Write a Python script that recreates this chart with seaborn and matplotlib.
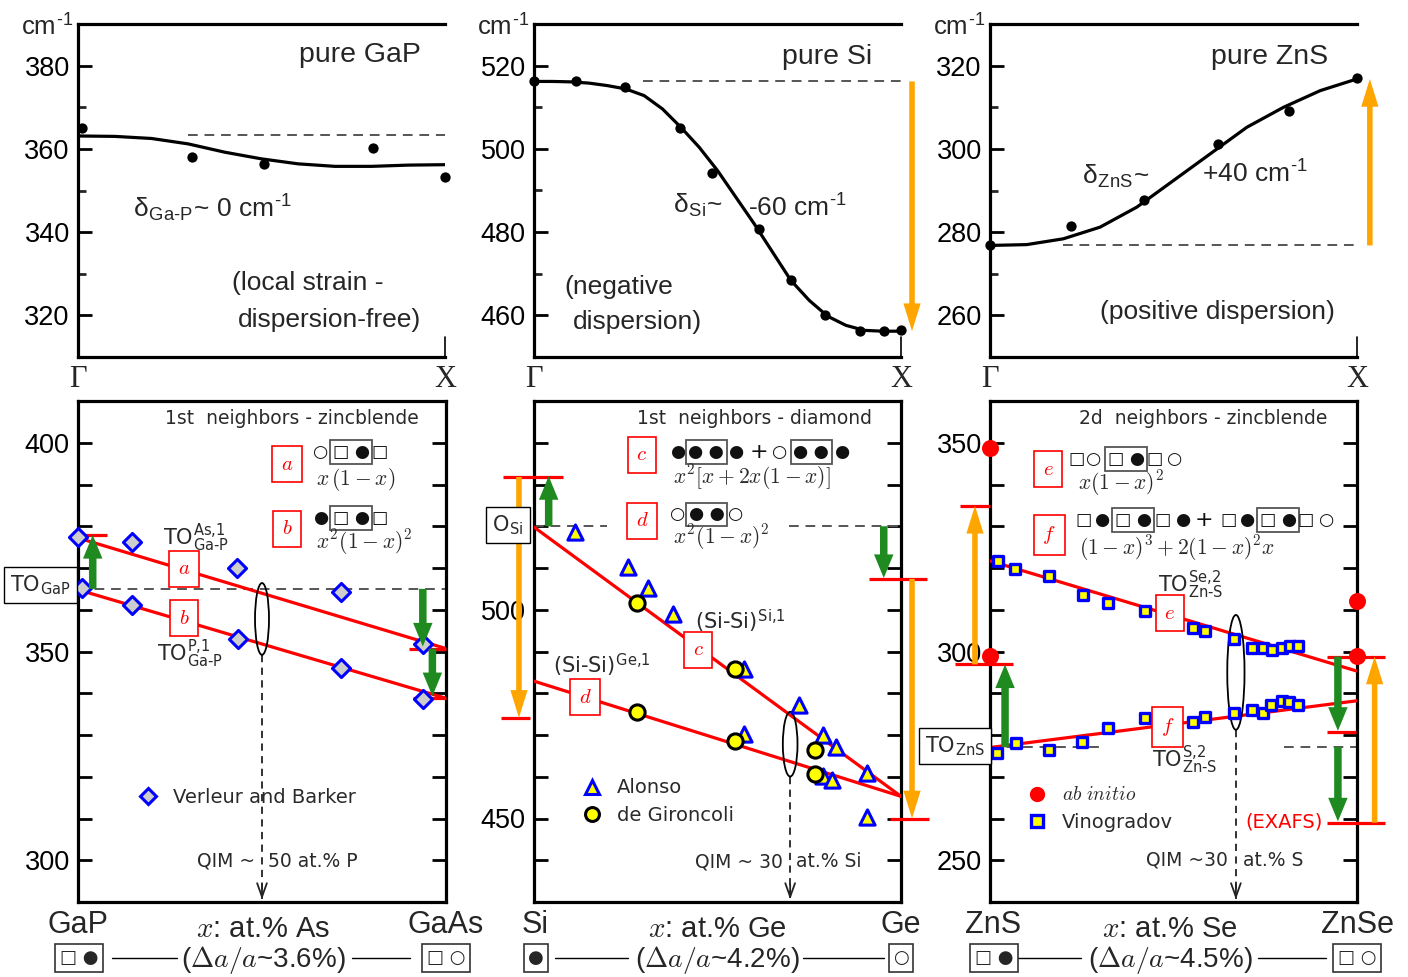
import numpy as np
import pandas as pd
import matplotlib
matplotlib.use("Agg")
import matplotlib.pyplot as plt
import seaborn as sns
from matplotlib.patches import Ellipse
from matplotlib.lines import Line2D
from matplotlib.ticker import MultipleLocator

# ======================= DATA =======================
# --- top row: TO dispersion along Gamma-X (reduced wave vector q) ---
gap_curve_q = [0.0, 0.1, 0.2, 0.3, 0.4, 0.5, 0.6, 0.7, 0.8, 0.9, 1.0]
gap_curve_w = [363.1, 363.0, 362.5, 361.2, 359.2, 357.6, 356.4, 355.8, 355.8, 356.1, 356.2]
gap_dots_q = [0.01, 0.31, 0.507, 0.804, 1.0]
gap_dots_w = [365.0, 358.0, 356.3, 360.3, 353.2]
gap_ref = 363.4

si_curve_q = [0.0, 0.05, 0.1, 0.15, 0.2, 0.25, 0.3, 0.35, 0.4, 0.45, 0.5,
              0.55, 0.6, 0.65, 0.7, 0.75, 0.8, 0.85, 0.9, 0.95, 1.0]
si_curve_w = [516.2, 516.2, 516.1, 515.8, 515.2, 514.4, 512.8, 509.6, 505.2, 500.4, 494.8,
              488.4, 482.0, 475.2, 468.4, 463.6, 459.8, 457.6, 456.4, 456.2, 456.2]
si_dots_q = [0.0, 0.115, 0.247, 0.397, 0.486, 0.614, 0.699, 0.793, 0.888, 0.954, 1.0]
si_dots_w = [516.2, 516.2, 514.8, 505.0, 494.2, 480.7, 468.4, 460.1, 456.2, 456.2, 456.4]
si_ref = 516.2

zns_curve_q = [0.0, 0.1, 0.2, 0.3, 0.4, 0.5, 0.6, 0.7, 0.8, 0.9, 1.0]
zns_curve_w = [276.8, 277.0, 278.4, 281.2, 286.0, 292.4, 298.8, 305.2, 310.0, 314.0, 316.8]
zns_dots_q = [0.0, 0.22, 0.42, 0.62, 0.816, 1.0]
zns_dots_w = [276.8, 281.4, 287.8, 301.2, 309.0, 317.0]
zns_ref = 276.8

top_ylims = [(310, 390), (450, 530), (250, 330)]
top_yticks = [[320, 340, 360, 380], [460, 480, 500, 520], [260, 280, 300, 320]]

# --- bottom row: percolation-type TO modes vs composition x ---
ends_x = [0.0, 1.0]
# GaAs(x)P(1-x)  (Verleur and Barker)
vb_as_x = [0.0, 0.147, 0.433, 0.715, 0.937]
vb_as_w = [377.5, 376.2, 370.1, 364.3, 351.9]
vb_p_x = [0.01, 0.147, 0.435, 0.715, 0.937]
vb_p_w = [365.1, 361.2, 353.0, 346.1, 338.7]
line_a = [377.2, 350.7]
line_b = [364.8, 338.8]
to_gap = 365.0
# Si(1-x)Ge(x)
alonso_x = [0.113, 0.257, 0.31, 0.378, 0.571, 0.571, 0.722, 0.787, 0.822, 0.787, 0.813, 0.908, 0.908]
alonso_w = [518.6, 510.2, 505.1, 498.9, 485.7, 470.3, 477.2, 470.1, 467.2, 460.1, 459.2, 460.9, 450.4]
giron_x = [0.28, 0.547, 0.28, 0.547, 0.767, 0.767]
giron_w = [501.5, 485.7, 475.6, 468.5, 466.3, 460.7]
line_c = [519.8, 455.3]
line_d = [482.9, 455.3]
o_si = 520.0
# ZnS(1-x)Se(x)
vino_up_x = [0.023, 0.068, 0.162, 0.254, 0.322, 0.423, 0.554, 0.586, 0.665, 0.714, 0.744, 0.768, 0.797, 0.817, 0.838]
vino_up_w = [321.6, 319.8, 318.0, 313.6, 311.6, 309.7, 305.6, 304.8, 303.1, 300.9, 300.8, 300.3, 300.9, 301.3, 301.3]
vino_lo_x = [0.018, 0.07, 0.162, 0.252, 0.322, 0.423, 0.552, 0.586, 0.665, 0.714, 0.744, 0.767, 0.797, 0.815, 0.839]
vino_lo_w = [275.8, 278.0, 276.5, 278.4, 281.6, 284.0, 283.1, 284.2, 285.3, 286.0, 285.3, 287.3, 288.2, 287.8, 287.3]
abinit_x = [0.0, 0.0, 1.0, 1.0]
abinit_w = [348.7, 298.9, 312.0, 298.9]
line_e = [321.7, 295.3]
line_f = [277.0, 288.2]
to_zns = 277.1

bot_ylims = [(290, 410), (430, 550), (240, 360)]
bot_yticks = [[300, 350, 400], [450, 500], [250, 300, 350]]

# ======================= STYLE =======================
sns.set_theme(style="white")
plt.rcParams["font.family"] = ["Liberation Sans", "DejaVu Sans"]
plt.rcParams["mathtext.fontset"] = "cm"

W, H = 1408, 977
fig = plt.figure(figsize=(W / 100, H / 100), dpi=100)
fig.patch.set_facecolor("white")


def fx(px):
    return px / W


def fy(py):
    return 1 - py / H


HY = "\u2010"
ORANGE = "#ffa500"
GREEN = "#1f8a1f"
DASH = dict(color="#555555", lw=1.4, ls=(0, (5, 3.5)))
SMALL = dict(family="DejaVu Sans", color="#2a2a2a")
TICKFS = 19.5

top_px = [(78, 445), (534, 901), (990, 1357)]
bot_px = [(78, 446), (534, 901), (990, 1357)]
ax_top = [fig.add_axes([fx(l), fy(357), (r - l) / W, 333 / H]) for l, r in top_px]
ax_bot = [fig.add_axes([fx(l), fy(902), (r - l) / W, 501 / H]) for l, r in bot_px]


def style_top(ax, ylim, ticks):
    ax.set_xlim(0, 1)
    ax.set_ylim(*ylim)
    ax.set_facecolor("none")
    for s in ["left", "top", "bottom"]:
        ax.spines[s].set_visible(True)
        ax.spines[s].set_linewidth(2.3)
        ax.spines[s].set_color("black")
    ax.spines["right"].set_visible(False)
    ax.set_xticks([])
    ax.set_yticks(ticks)
    ax.yaxis.set_minor_locator(MultipleLocator(10))
    ax.tick_params(axis="y", which="major", direction="in", length=10, width=2,
                   left=True, right=False, labelsize=TICKFS, pad=6, colors="black")
    ax.tick_params(axis="y", which="minor", direction="in", length=6, width=2,
                   left=True, right=False)
    ax.plot([1, 1], [0, 0.06], transform=ax.transAxes, color="black", lw=1.2, clip_on=False)
    ax.set_xlabel("")
    ax.set_ylabel("")


def style_bot(ax, ylim, ticks):
    ax.set_xlim(0, 1)
    ax.set_ylim(*ylim)
    ax.set_facecolor("none")
    for s in ["left", "top", "bottom", "right"]:
        ax.spines[s].set_visible(True)
        ax.spines[s].set_linewidth(2.3)
        ax.spines[s].set_color("black")
    ax.set_xticks([])
    ax.set_yticks(ticks)
    ax.yaxis.set_minor_locator(MultipleLocator(10))
    for which in ["major", "minor"]:
        ax.tick_params(axis="y", which=which, direction="in", length=10, width=2,
                       left=True, right=True, labelsize=TICKFS, pad=6, colors="black")
    ax.set_xlabel("")
    ax.set_ylabel("")


def arrow(ax, x, y0, y1, color, tail=0.27, hw=0.7, hl=0.85, ms=20):
    ax.annotate("", xy=(x, y1), xytext=(x, y0),
                arrowprops=dict(arrowstyle=f"simple,head_length={hl},head_width={hw},tail_width={tail}",
                                color=color, shrinkA=0, shrinkB=0, mutation_scale=ms, lw=0),
                annotation_clip=False, zorder=6)


def hbar(ax, x0, x1, y):
    ax.plot([x0, x1], [y, y], color="red", lw=2.3, clip_on=False, zorder=4, solid_capstyle="butt")


def qim_arrow(ax, x, y0, y1, span):
    ax.plot([x, x], [y0, y1], color="#222222", lw=1.3, ls=(0, (4, 3)), zorder=3)
    ax.annotate("", xy=(x, y1), xytext=(x, y1 + span * 0.03),
                arrowprops=dict(arrowstyle="->,head_length=0.7,head_width=0.25", color="#222222",
                                lw=1.3, shrinkA=0, shrinkB=0, mutation_scale=14))


def rbox(ax, x, y, s):
    ax.text(x, y, f"${s}$", color="red", fontsize=15, ha="center", va="center", zorder=7,
            bbox=dict(boxstyle="square,pad=0.42", fc="white", ec="red", lw=1.2))


def sym(ax, x, y, s, boxed=False, fs=12.5):
    kw = dict(ha="center", va="center", fontsize=fs, color="#111111", family="DejaVu Sans")
    if boxed:
        kw["bbox"] = dict(boxstyle="square,pad=0.15", fc="none", ec="#555555", lw=1.3)
    ax.text(x, y, s, **kw)


def math(ax, x, y, s, fs=15.5):
    ax.text(x, y, s, ha="left", va="center", fontsize=fs, color="#2a2a2a")


def lbox(ax, x, y, s):
    ax.text(x, y, s, ha="center", va="center", fontsize=15, clip_on=False, zorder=7,
            bbox=dict(boxstyle="square,pad=0.3", fc="white", ec="black", lw=1.0), **SMALL)


# ======================= TOP ROW =======================
tops = [
    (gap_curve_q, gap_curve_w, gap_dots_q, gap_dots_w, gap_ref, 0.30),
    (si_curve_q, si_curve_w, si_dots_q, si_dots_w, si_ref, 0.297),
    (zns_curve_q, zns_curve_w, zns_dots_q, zns_dots_w, zns_ref, 0.20),
]
for ax, (cq, cw, dq, dw, ref, x0), yl, yt in zip(ax_top, tops, top_ylims, top_yticks):
    sns.lineplot(x=cq, y=cw, ax=ax, color="black", lw=2.3, estimator=None, sort=False, zorder=3)
    sns.scatterplot(x=dq, y=dw, ax=ax, color="black", s=55, edgecolor="black", linewidth=0,
                    zorder=4, clip_on=False, legend=False)
    ax.plot([x0, 1.0], [ref, ref], **DASH)
    style_top(ax, yl, yt)

arrow(ax_top[1], 1.03, si_ref, si_curve_w[-1], ORANGE, tail=0.2, hw=0.62, hl=1.0)
arrow(ax_top[2], 1.035, zns_ref, zns_curve_w[-1], ORANGE, tail=0.2, hw=0.62, hl=1.0)

BIG = 20.5
MID = 19
CM = "cm$^{\\mathregular{" + HY + "1}}$"
a0, a1, a2 = ax_top
a0.text(0.768, 382.5, "pure GaP", ha="center", va="center", fontsize=BIG)
a0.text(0.15, 346, "δ$_{\\mathregular{Ga" + HY + "P}}$~ 0 " + CM, ha="left", va="center", fontsize=MID)
a0.text(0.42, 327.8, "(local strain -", ha="left", va="center", fontsize=MID)
a0.text(0.436, 318.9, "dispersion-free)", ha="left", va="center", fontsize=MID)

a1.text(0.798, 522.1, "pure Si", ha="center", va="center", fontsize=BIG)
a1.text(0.379, 486.5, "δ$_{\\mathregular{Si}}$~", ha="left", va="center", fontsize=MID)
a1.text(0.583, 486.0, "-60 " + CM, ha="left", va="center", fontsize=MID)
a1.text(0.084, 466.8, "(negative", ha="left", va="center", fontsize=MID)
a1.text(0.106, 458.4, "dispersion)", ha="left", va="center", fontsize=MID)

a2.text(0.763, 322.1, "pure ZnS", ha="center", va="center", fontsize=BIG)
a2.text(0.25, 293.4, "δ$_{\\mathregular{ZnS}}$~", ha="left", va="center", fontsize=MID)
a2.text(0.578, 294.2, "+40 " + CM, ha="left", va="center", fontsize=MID)
a2.text(0.62, 260.8, "(positive dispersion)", ha="center", va="center", fontsize=MID)

for (l, r) in top_px:
    fig.text(fx(l), fy(379), "Γ", ha="center", va="center", fontsize=22, family="Liberation Serif")
    fig.text(fx(r), fy(379), "X", ha="center", va="center", fontsize=22, family="Liberation Serif")
    fig.text(fx(l - 57), fy(27), CM, ha="left", va="center", fontsize=18.5)

# ======================= BOTTOM ROW =======================
b0, b1, b2 = ax_bot

# ---- GaAsP ----
ax = b0
ax.plot([0, 1], [to_gap, to_gap], zorder=1, **DASH)
sns.lineplot(x=ends_x, y=line_a, ax=ax, color="red", lw=2.3, estimator=None, zorder=3)
sns.lineplot(x=ends_x, y=line_b, ax=ax, color="red", lw=2.3, estimator=None, zorder=3)
for xs, ws in [(vb_as_x, vb_as_w), (vb_p_x, vb_p_w)]:
    sns.scatterplot(x=xs, y=ws, ax=ax, marker="D", s=85, color="#cdcdcd", edgecolor="blue",
                    linewidth=2.2, zorder=5, clip_on=False, legend=False)
hbar(ax, 0.0, 0.08, 377.9)
hbar(ax, 0.9, 1.0, line_a[1])
hbar(ax, 0.91, 1.0, line_b[1])
arrow(ax, 0.04, to_gap, 377.9, GREEN)
arrow(ax, 0.937, to_gap, 351.2, GREEN)
arrow(ax, 0.963, line_a[1], 339.3, GREEN)
ax.add_patch(Ellipse((0.5, 357.8), 0.038, 17.2, fill=False, ec="black", lw=1.3, zorder=4))
qim_arrow(ax, 0.5, 349.2, 290.6, 120)
ax.text(0.582, 405.7, "1st  neighbors - zincblende", ha="center", va="center", fontsize=13.5, **SMALL)
rbox(ax, 0.568, 394.9, "a")
rbox(ax, 0.568, 379.4, "b")
rbox(ax, 0.288, 369.8, "a")
rbox(ax, 0.288, 358.0, "b")
sym(ax, 0.658, 397.8, "○"); sym(ax, 0.742, 397.8, "□ ●", True); sym(ax, 0.821, 397.8, "□")
math(ax, 0.647, 391.1, r"$x\,(1-x)$")
sym(ax, 0.658, 382.0, "●"); sym(ax, 0.742, 382.0, "□ ●", True); sym(ax, 0.821, 382.0, "□")
math(ax, 0.647, 376.2, r"$x^2(1-x)^2$")
ax.text(0.231, 377.3, "TO$^{\\mathregular{As{,}1}}_{\\mathregular{Ga" + HY + "P}}$", ha="left", va="center", fontsize=15, **SMALL)
ax.text(0.215, 349.4, "TO$^{\\mathregular{P{,}1}}_{\\mathregular{Ga" + HY + "P}}$", ha="left", va="center", fontsize=15, **SMALL)
lbox(ax, -0.103, 365.9, "TO$_{\\mathregular{GaP}}$")
ax.text(0.481, 299.8, "QIM ~", ha="right", va="center", fontsize=13.5, **SMALL)
ax.text(0.516, 299.8, "50 at.% P", ha="left", va="center", fontsize=13.5, **SMALL)
h = Line2D([], [], marker="D", ls="none", ms=8.5, mfc="#cdcdcd", mec="blue", mew=2.2)
ax.legend([h], ["Verleur and Barker"], loc="center left", bbox_to_anchor=(0.163, 0.209),
          frameon=False, handlelength=1.0, handletextpad=0.8, borderpad=0, borderaxespad=0,
          prop={"family": "DejaVu Sans", "size": 14}, labelcolor="#2a2a2a")
style_bot(ax, bot_ylims[0], bot_yticks[0])

# ---- SiGe ----
ax = b1
ax.plot([0, 0.2], [o_si, o_si], zorder=1, **DASH)
ax.plot([0.695, 1.0], [o_si, o_si], zorder=1, **DASH)
sns.lineplot(x=ends_x, y=line_c, ax=ax, color="red", lw=2.3, estimator=None, zorder=3)
sns.lineplot(x=ends_x, y=line_d, ax=ax, color="red", lw=2.3, estimator=None, zorder=3)
sns.scatterplot(x=alonso_x, y=alonso_w, ax=ax, marker="^", s=120, color="#ffff00", edgecolor="blue",
                linewidth=2.2, zorder=5, legend=False)
sns.scatterplot(x=giron_x, y=giron_w, ax=ax, marker="o", s=120, color="#ffff00", edgecolor="black",
                linewidth=2.2, zorder=6, legend=False)
hbar(ax, -0.084, 0.079, 531.8)
hbar(ax, -0.089, -0.012, 474.1)
hbar(ax, 0.912, 1.07, 507.4)
hbar(ax, 0.97, 1.075, 450.0)
arrow(ax, -0.041, 531.8, 474.1, ORANGE, tail=0.2, hw=0.62, hl=1.0)
arrow(ax, 1.03, 507.4, 450.0, ORANGE, tail=0.2, hw=0.62, hl=1.0)
arrow(ax, 0.04, o_si, 532.0, GREEN)
arrow(ax, 0.953, o_si, 507.6, GREEN)
ax.add_patch(Ellipse((0.698, 467.8), 0.04, 15.5, fill=False, ec="black", lw=1.3, zorder=4))
qim_arrow(ax, 0.698, 460.0, 430.6, 120)
ax.text(0.6, 545.7, "1st  neighbors - diamond", ha="center", va="center", fontsize=13.5, **SMALL)
rbox(ax, 0.294, 537.1, "c")
rbox(ax, 0.294, 521.3, "d")
rbox(ax, 0.447, 490.4, "c")
rbox(ax, 0.139, 479.1, "d")
for xx, s, bx in [(0.39, "●", False), (0.469, "● ●", True), (0.548, "●", False), (0.613, "+", False),
                  (0.67, "○", False), (0.755, "● ●", True), (0.839, "●", False)]:
    sym(ax, xx, 537.8, s, bx, fs=16 if s == "+" else 12.5)
math(ax, 0.379, 531.8, r"$x^2[x+2x(1-x)]$")
sym(ax, 0.39, 522.9, "○"); sym(ax, 0.471, 522.9, "● ●", True); sym(ax, 0.55, 522.9, "○")
math(ax, 0.379, 517.4, r"$x^2(1-x)^2$")
ax.text(0.439, 497.3, "(Si-Si)$^{\\mathregular{Si{,}1}}$", ha="left", va="center", fontsize=15, **SMALL)
ax.text(0.052, 486.8, "(Si-Si)$^{\\mathregular{Ge{,}1}}$", ha="left", va="center", fontsize=15, **SMALL)
lbox(ax, -0.071, 520.2, "O$_{\\mathregular{Si}}$")
ax.text(0.678, 439.6, "QIM ~ 30", ha="right", va="center", fontsize=13.5, **SMALL)
ax.text(0.714, 439.6, "at.% Si", ha="left", va="center", fontsize=13.5, **SMALL)
h1 = Line2D([], [], marker="^", ls="none", ms=10, mfc="#ffff00", mec="blue", mew=2.2)
h2 = Line2D([], [], marker="o", ls="none", ms=10, mfc="#ffff00", mec="black", mew=2.2)
ax.legend([h1, h2], ["Alonso", "de Gironcoli"], loc="center left", bbox_to_anchor=(0.131, 0.2),
          frameon=False, handlelength=1.0, handletextpad=0.8, borderpad=0, borderaxespad=0,
          labelspacing=0.45, prop={"family": "DejaVu Sans", "size": 14}, labelcolor="#2a2a2a")
style_bot(ax, bot_ylims[1], bot_yticks[1])

# ---- ZnSSe ----
ax = b2
ax.plot([0, 0.3], [to_zns, to_zns], zorder=1, **DASH)
ax.plot([0.8, 1.0], [to_zns, to_zns], zorder=1, **DASH)
sns.lineplot(x=ends_x, y=line_e, ax=ax, color="red", lw=2.3, estimator=None, zorder=3)
sns.lineplot(x=ends_x, y=line_f, ax=ax, color="red", lw=2.3, estimator=None, zorder=3)
for xs, ws in [(vino_up_x, vino_up_w), (vino_lo_x, vino_lo_w)]:
    sns.scatterplot(x=xs, y=ws, ax=ax, marker="s", s=62, color="#ffff00", edgecolor="blue",
                    linewidth=2.4, zorder=5, legend=False)
sns.scatterplot(x=abinit_x, y=abinit_w, ax=ax, marker="o", s=150, color="red", edgecolor="red",
                linewidth=0, zorder=6, clip_on=False, legend=False)
hbar(ax, -0.082, 0.0, 334.9)
hbar(ax, -0.095, 0.064, 296.9)
hbar(ax, 0.918, 1.077, 298.8)
hbar(ax, 0.918, 0.998, 280.8)
hbar(ax, 0.918, 1.077, 259.0)
arrow(ax, -0.041, 296.9, 334.9, ORANGE, tail=0.2, hw=0.62, hl=1.0)
arrow(ax, 1.048, 259.0, 298.8, ORANGE, tail=0.2, hw=0.62, hl=1.0)
arrow(ax, 0.041, to_zns, 296.9, GREEN)
arrow(ax, 0.948, 298.8, 281.0, GREEN)
arrow(ax, 0.948, to_zns, 259.3, GREEN)
ax.add_patch(Ellipse((0.67, 295.0), 0.047, 27.5, fill=False, ec="black", lw=1.3, zorder=4))
qim_arrow(ax, 0.67, 281.2, 240.6, 120)
ax.text(0.58, 355.7, "2d  neighbors - zincblende", ha="center", va="center", fontsize=13.5, **SMALL)
rbox(ax, 0.158, 343.7, "e")
rbox(ax, 0.161, 327.9, "f")
rbox(ax, 0.49, 309.2, "e")
rbox(ax, 0.485, 281.9, "f")
for xx, s, bx in [(0.237, "□", False), (0.283, "○", False), (0.371, "□ ●", True),
                  (0.45, "□", False), (0.504, "○", False)]:
    sym(ax, xx, 346.1, s, bx)
math(ax, 0.24, 340.4, r"$x(1-x)^2$")
for xx, s, bx in [(0.256, "□", False), (0.305, "●", False), (0.39, "□ ●", True), (0.471, "□", False),
                  (0.525, "●", False), (0.584, "+", False), (0.649, "□", False), (0.70, "●", False),
                  (0.785, "□ ●", True), (0.861, "□", False), (0.918, "○", False)]:
    sym(ax, xx, 331.5, s, bx, fs=16 if s == "+" else 12.5)
math(ax, 0.243, 324.8, r"$(1-x)^3+2(1-x)^2x$")
ax.text(0.458, 315.9, "TO$^{\\mathregular{Se{,}2}}_{\\mathregular{Zn" + HY + "S}}$", ha="left", va="center", fontsize=15, **SMALL)
ax.text(0.441, 274.0, "TO$^{\\mathregular{S{,}2}}_{\\mathregular{Zn" + HY + "S}}$", ha="left", va="center", fontsize=15, **SMALL)
lbox(ax, -0.095, 277.3, "TO$_{\\mathregular{ZnS}}$")
ax.text(0.907, 259.2, "(EXAFS)", ha="right", va="center", fontsize=14, color="red", family="DejaVu Sans")
ax.text(0.649, 250.0, "QIM ~30", ha="right", va="center", fontsize=13.5, **SMALL)
ax.text(0.689, 250.0, "at.% S", ha="left", va="center", fontsize=13.5, **SMALL)
h1 = Line2D([], [], marker="o", ls="none", ms=11, mfc="red", mec="red", mew=0)
h2 = Line2D([], [], marker="s", ls="none", ms=8, mfc="#ffff00", mec="blue", mew=2.4)
ax.legend([h1, h2], [r"$ab\ initio$", "Vinogradov"], loc="center left", bbox_to_anchor=(0.101, 0.186),
          frameon=False, handlelength=1.0, handletextpad=0.8, borderpad=0, borderaxespad=0,
          labelspacing=0.45, prop={"family": "DejaVu Sans", "size": 14}, labelcolor="#2a2a2a")
style_bot(ax, bot_ylims[2], bot_yticks[2])

# ======================= COMPOSITION LABELS =======================
LAB = 22
comp = [
    (78, 446, 263, "GaP", "GaAs", "$x$: at.% As", r"($\Delta a/a$~3.6%)", "□ ●", "□ ○",
     (112, 177), (352, 410)),
    (535, 901, 717, "Si", "Ge", "$x$: at.% Ge", r"($\Delta a/a$~4.2%)", "●", "○",
     (555, 628), (803, 884)),
    (993, 1357, 1170, "ZnS", "ZnSe", "$x$: at.% Se", r"($\Delta a/a$~4.5%)", "□ ●", "□ ○",
     (1018, 1081), (1258, 1326)),
]
for xl, xr, xc, nl, nr, xlab, dl, bl, br, s1, s2 in comp:
    fig.text(fx(xl), fy(925), nl, ha="center", va="center", fontsize=LAB)
    fig.text(fx(xr), fy(925), nr, ha="center", va="center", fontsize=LAB)
    fig.text(fx(xc), fy(929), xlab, ha="center", va="center", fontsize=21)
    fig.text(fx(xc), fy(960), dl, ha="center", va="center", fontsize=20)
    fig.text(fx(xl + 1), fy(958), bl, ha="center", va="center", fontsize=13, family="DejaVu Sans",
             bbox=dict(boxstyle="square,pad=0.25", fc="white", ec="#333333", lw=1.2))
    fig.text(fx(xr), fy(958), br, ha="center", va="center", fontsize=13, family="DejaVu Sans",
             bbox=dict(boxstyle="square,pad=0.25", fc="white", ec="#333333", lw=1.2))
    for a, b in (s1, s2):
        fig.add_artist(Line2D([fx(a), fx(b)], [fy(958), fy(958)], color="black", lw=1.0))

fig.savefig("out.png", dpi=100, facecolor="white")
